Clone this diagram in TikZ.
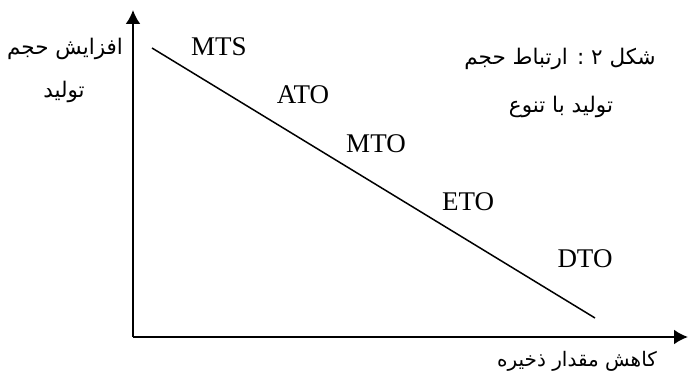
\documentclass[tikz,border=0pt]{standalone}
\usepackage{fontspec}
\setmainfont{Liberation Serif}
\newfontfamily\farsi[Script=Arabic]{DejaVu Sans}
\TeXXeTstate=1
\usetikzlibrary{arrows.meta,positioning}
\tikzset{
  axis/.style={-{Latex[length=14pt,width=15pt]}, line width=2.2pt},
  trend/.style={line width=1.5pt},
  code/.style={inner sep=0pt, font=\fontsize{27}{30}\selectfont},
  fa/.style={inner sep=0pt, align=center, font=\farsi\fontsize{21.5}{24}\selectfont}
}

\begin{document}
\begin{tikzpicture}[x=1pt, y=-1pt]
\useasboundingbox (0,0) rectangle (688,374);
\coordinate (o) at (133,337);
\coordinate (ytop) at (133,10);
\coordinate (xend) at (688,337);
\coordinate (s) at (152,48);
\coordinate (e) at (595,318);
\draw[axis] (o) -- (ytop);
\draw[axis] (o) -- (xend);
\draw[trend] (s) -- (e);
% codes along the line
\node[code] (mts) at (219,47) {MTS};
\node[code] (ato) at (303,95) {ATO};
\node[code] (mto) at (376,144) {MTO};
\node[code] (eto) at (468,202) {ETO};
\node[code] (dto) at (585,259) {DTO};
% labels
\node[fa] (yl1) at (65,49) {\beginR افزایش حجم\endR};
\node[fa] (yl2) at (64,92) {\beginR تولید\endR};
\node[fa] (t1) at (560,59) {\beginR شکل ۲ : ارتباط حجم\endR};
\node[fa] (t2) at (561,107) {\beginR تولید با تنوع\endR};
\node[fa, font=\farsi\fontsize{20}{24}\selectfont] (xl) at (577,361) {\beginR کاهش مقدار ذخیره\endR};
\end{tikzpicture}
\end{document}
